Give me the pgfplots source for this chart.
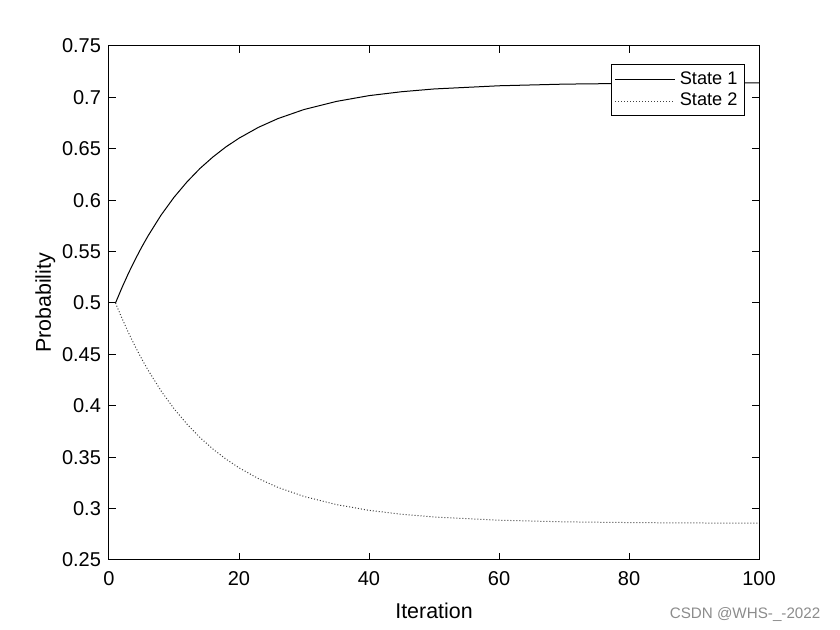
\documentclass[border=0pt]{standalone}
\usepackage{pgfplots}
\pgfplotsset{compat=1.18}
\usepackage{fontspec}
\setmainfont{Liberation Sans}
\begin{document}
\begin{tikzpicture}
\begin{axis}[
  scale only axis,
  width=325pt, height=257pt,
  xmin=0, xmax=100, ymin=0.25, ymax=0.75,
  xtick={0,20,...,100},
  ytick={0.25,0.3,...,0.75},
  yticklabels={0.25,0.3,0.35,0.4,0.45,0.5,0.55,0.6,0.65,0.7,0.75},
  tick align=inside,
  major tick length=3.3pt,
  tick style={black, line width=0.5pt},
  axis line style={line width=0.5pt},
  ticklabel style={font=\fontsize{10}{12}\selectfont},
  xticklabel style={yshift=-2pt},
  yticklabel style={xshift=-0.5pt},
  /pgf/number format/assume math mode=true,
  xlabel={Iteration}, ylabel={Probability},
  label style={font=\fontsize{10.7}{12}\selectfont},
  xlabel style={yshift=-2pt},
  ylabel style={yshift=-3.5pt},
  legend cell align=left,
  legend style={at={(rel axis cs:0.9785,0.965)}, anchor=north east,
    font=\fontsize{9.1}{10.5}\selectfont, draw=black, line width=0.5pt,
    inner sep=1.5pt, row sep=-1pt},
  legend image code/.code={\draw[#1] (0cm,0cm) -- (30pt,0cm);},
  clip=false,
]
\addplot[black, line width=0.5pt] coordinates {
(1,0.5000) (2,0.5150) (3,0.5290) (4,0.5419) (5,0.5540) (6,0.5652) (8,0.5854)
(10,0.6028) (12,0.6178) (14,0.6309) (16,0.6421) (18,0.6519) (20,0.6603)
(23,0.6709) (26,0.6794) (30,0.6882) (35,0.6961) (40,0.7017) (45,0.7055)
(50,0.7082) (60,0.7113) (70,0.7129) (80,0.7136) (90,0.7140) (100,0.7141)};
\addlegendentry{State 1}
\addplot[black!75, line width=0.5pt, dash pattern=on 0.5pt off 1pt] coordinates {
(1,0.5000) (2,0.4850) (3,0.4710) (4,0.4581) (5,0.4460) (6,0.4348) (8,0.4146)
(10,0.3972) (12,0.3822) (14,0.3691) (16,0.3579) (18,0.3481) (20,0.3397)
(23,0.3291) (26,0.3206) (30,0.3118) (35,0.3039) (40,0.2983) (45,0.2945)
(50,0.2918) (60,0.2887) (70,0.2871) (80,0.2864) (90,0.2860) (100,0.2859)};
\addlegendentry{State 2}
\coordinate (bl) at (rel axis cs:-0.1677,-0.1362);
\coordinate (tr) at (rel axis cs:1.1246,1.0895);
\node[anchor=south east, text=black!45, font=\fontsize{7.6}{9}\selectfont, inner sep=0pt]
  at (rel axis cs:1.095,-0.1205) {CSDN @WHS-\_-2022};
\end{axis}
\pgfresetboundingbox
\path[use as bounding box] (bl) rectangle (tr);
\end{tikzpicture}
\end{document}
